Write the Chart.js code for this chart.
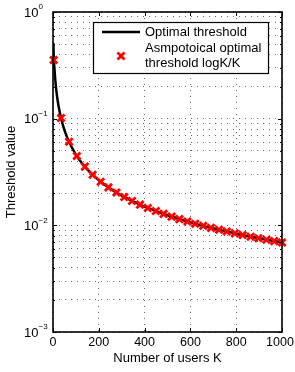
<!DOCTYPE html>
<html>
<head>
<meta charset="utf-8">
<script src="https://cdn.jsdelivr.net/npm/chart.js@4.4.1/dist/chart.umd.min.js"></script>
<style>
body { margin: 0; background: #fff; }
#wrap { width: 295px; height: 372px; position: relative; }
</style>
</head>
<body>
<div id="wrap"><canvas id="threshold_chart"></canvas></div>
<script>
// optimal threshold curve (black line)
var curve_k   = [2, 3, 5, 10, 15, 20, 25, 35, 50, 70, 100, 130, 160, 200, 250, 300, 350, 400, 450, 500, 600, 700, 800, 900, 1000];
var curve_val = [0.51, 0.366, 0.322, 0.230, 0.1805, 0.1498, 0.1288, 0.1016, 0.0782, 0.0607, 0.0461, 0.0374, 0.0317, 0.0265, 0.0221, 0.0190, 0.01674, 0.01498, 0.01357, 0.01243, 0.01066, 0.00936, 0.00836, 0.00756, 0.00691];

// asymptotic threshold logK/K (red crosses)
var marker_k   = [3, 35, 70, 104, 139, 173, 208, 242, 277, 311, 345, 380, 414, 449, 483, 518, 552, 587, 621, 656, 690, 725, 759, 794, 828, 863, 897, 932, 966, 1000];
var marker_val = [0.355, 0.1016, 0.0607, 0.04466, 0.0355, 0.02979, 0.02566, 0.02268, 0.02030, 0.01846, 0.01694, 0.01563, 0.01456, 0.01360, 0.01280, 0.01207, 0.01144, 0.01086, 0.01036, 0.00989, 0.00947, 0.00908, 0.00874, 0.00841, 0.00811, 0.00783, 0.00758, 0.00734, 0.00711, 0.00691];

var x_ticks = [0, 200, 400, 600, 800, 1000];
var y_exps  = [-3, -2, -1, 0];
var line_name   = 'Optimal threshold';
var marker_name = ['Asmpotoical optimal', 'threshold logK/K'];
var x_title = 'Number of users K';
var y_title = 'Threshold value';

var FONT = '"Liberation Sans", Arial, Helvetica, sans-serif';

function toPoints(xs, ys) {
    var out = [];
    for (var i = 0; i < xs.length; i++) out.push({x: xs[i], y: ys[i]});
    return out;
}

// axes box, inside ticks, tick labels, titles and legend (matlab look)
var matlabAxes = {
    id: 'matlabAxes',
    afterDraw: function (chart) {
        var ctx = chart.ctx;
        var a = chart.chartArea;
        var xs = chart.scales.x, ys = chart.scales.y;
        ctx.save();
        ctx.strokeStyle = '#000';
        ctx.fillStyle = '#000';

        // inside ticks
        ctx.lineWidth = 1;
        ctx.beginPath();
        x_ticks.forEach(function (v) {
            var px = Math.round(xs.getPixelForValue(v)) + 0.5;
            ctx.moveTo(px, a.bottom); ctx.lineTo(px, a.bottom - 4);
            ctx.moveTo(px, a.top); ctx.lineTo(px, a.top + 4);
        });
        y_exps.forEach(function (e) {
            for (var m = 1; m < 10; m++) {
                var v = m * Math.pow(10, e);
                if (v > 1) break;
                var py = Math.round(ys.getPixelForValue(v)) + 0.5;
                var len = m == 1 ? 4 : 2;
                ctx.moveTo(a.left, py); ctx.lineTo(a.left + len, py);
                ctx.moveTo(a.right, py); ctx.lineTo(a.right - len, py);
            }
        });
        ctx.stroke();

        // box
        ctx.lineWidth = 1.6;
        ctx.strokeRect(a.left, a.top, a.right - a.left, a.bottom - a.top);

        // x tick labels
        ctx.font = '12.5px ' + FONT;
        ctx.textAlign = 'center';
        ctx.textBaseline = 'middle';
        x_ticks.forEach(function (v) {
            var px = xs.getPixelForValue(v);
            if (v == 1000) px -= 2;
            ctx.fillText(String(v), px, a.bottom + 11);
        });

        // y tick labels 10^e
        y_exps.forEach(function (e) {
            var py = ys.getPixelForValue(Math.pow(10, e));
            ctx.font = '13px ' + FONT;
            ctx.textAlign = 'left';
            ctx.textBaseline = 'middle';
            ctx.fillText('10', 24, py + 1);
            ctx.font = '8px ' + FONT;
            ctx.fillText(e == 0 ? '0' : '\u2212' + (-e), 38.5, py - 5);
        });

        // axis titles
        ctx.font = '13px ' + FONT;
        ctx.textAlign = 'center';
        ctx.textBaseline = 'middle';
        ctx.fillText(x_title, (a.left + a.right) / 2, a.bottom + 26);
        ctx.save();
        ctx.translate(11, (a.top + a.bottom) / 2);
        ctx.rotate(-Math.PI / 2);
        ctx.fillText(y_title, 0, 0);
        ctx.restore();

        // legend
        var lx = 93, ly = 22, lw = 175, lh = 51;
        ctx.fillStyle = '#fff';
        ctx.fillRect(lx, ly, lw, lh);
        ctx.lineWidth = 1.2;
        ctx.strokeStyle = '#000';
        ctx.strokeRect(lx + 0.5, ly + 0.5, lw, lh);
        ctx.lineWidth = 2.5;
        ctx.beginPath();
        ctx.moveTo(102, 32); ctx.lineTo(140, 32);
        ctx.stroke();
        ctx.fillStyle = '#000';
        ctx.textAlign = 'left';
        ctx.font = '13px ' + FONT;
        ctx.fillText(line_name, 145, 32);
        ctx.fillText(marker_name[0], 145, 48);
        ctx.fillText(marker_name[1], 145, 63);
        ctx.strokeStyle = '#ff0000';
        ctx.lineWidth = 2.8;
        ctx.beginPath();
        ctx.moveTo(117.5, 52.5); ctx.lineTo(124.5, 59.5);
        ctx.moveTo(124.5, 52.5); ctx.lineTo(117.5, 59.5);
        ctx.stroke();

        ctx.restore();
    }
};

var threshold_chart = new Chart(document.getElementById('threshold_chart'), {
    type: 'line',
    data: {
        datasets: [{
            label: marker_name.join(' '),
            data: toPoints(marker_k, marker_val),
            showLine: false,
            clip: false,
            pointStyle: 'crossRot',
            pointRadius: 5,
            pointBorderWidth: 2.8,
            pointBorderColor: '#ff0000',
            pointBackgroundColor: '#ff0000',
        },
        {
            label: line_name,
            data: toPoints(curve_k, curve_val),
            borderColor: '#000',
            borderWidth: 2.5,
            pointRadius: 0,
            cubicInterpolationMode: 'monotone',
        }]
    },
    options: {
        responsive: true,
        maintainAspectRatio: false,
        animation: false,
        devicePixelRatio: 1,
        layout: {
            padding: { left: 0, right: 13, top: 12, bottom: 0 }
        },
        plugins: {
            legend: { display: false },
            tooltip: { enabled: false },
        },
        scales: {
            x: {
                type: 'linear',
                min: 0,
                max: 1000,
                ticks: { display: false, stepSize: 200 },
                grid: { color: 'rgba(40,40,40,0.7)', lineWidth: 1, drawTicks: false },
                border: { display: false, dash: [1, 5] },
                afterFit: function (scale) { scale.height = 40; }
            },
            y: {
                type: 'logarithmic',
                min: 0.001,
                max: 1,
                ticks: { display: false },
                grid: { color: 'rgba(40,40,40,0.7)', lineWidth: 1, drawTicks: false },
                border: { display: false, dash: [1, 5] },
                afterBuildTicks: function (scale) {
                    var t = [];
                    y_exps.forEach(function (e) {
                        for (var m = 1; m < 10; m++) {
                            var v = m * Math.pow(10, e);
                            if (v > 1) break;
                            t.push({ value: v });
                        }
                    });
                    scale.ticks = t;
                },
                afterFit: function (scale) { scale.width = 53; }
            }
        }
    },
    plugins: [matlabAxes]
});
</script>
</body>
</html>
